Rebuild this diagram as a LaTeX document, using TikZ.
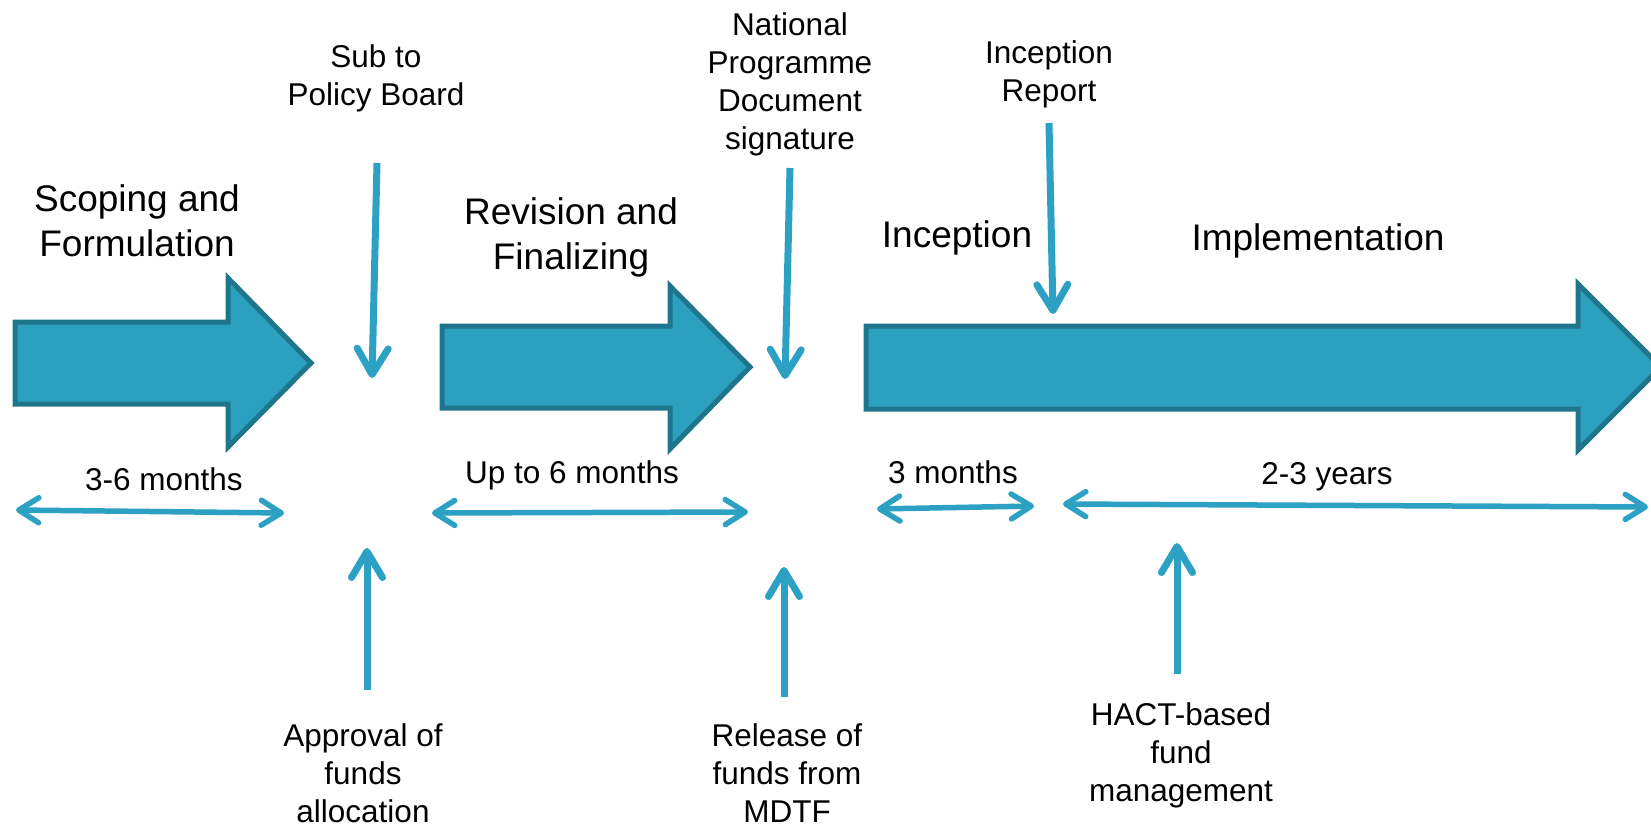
\documentclass[tikz,border=0pt]{standalone}
\usepackage{fontspec}
\setmainfont{Liberation Sans}
\usetikzlibrary{arrows.meta, positioning}
\definecolor{arrowfill}{RGB}{44,161,191}
\definecolor{arrowedge}{RGB}{31,117,140}
\definecolor{cueblue}{RGB}{44,161,196}
\tikzstyle{phase} = [font=\fontsize{37}{45}\selectfont, align=center, inner sep=0pt]
\tikzstyle{milestone} = [font=\fontsize{31.5}{38}\selectfont, align=center, inner sep=0pt]
\tikzstyle{span} = [font=\fontsize{31.5}{38}\selectfont, inner sep=0pt]
\tikzstyle{bigarrow} = [draw=arrowedge, fill=arrowfill, line width=5pt, line join=miter]
\tikzstyle{cue} = [draw=cueblue, line width=7pt, -{Straight Barb[length=26pt,width=31pt,round]}]
\tikzstyle{duration} = [draw=cueblue, line width=5.5pt, {Straight Barb[length=20pt,width=25pt,round]}-{Straight Barb[length=20pt,width=25pt,round]}]

\begin{document}
\begin{tikzpicture}[x=1pt, y=-1pt]
			\useasboundingbox (0,0) rectangle (1651,829);

			% phase arrows
			\draw [bigarrow] (15,322) -- (228,322) -- (228,278) -- (311,363) -- (228,447) -- (228,404) -- (15,404) -- cycle;
			\draw [bigarrow] (442,326) -- (670,326) -- (670,286) -- (750,367) -- (670,449) -- (670,408) -- (442,408) -- cycle;
			\draw [bigarrow] (866,326) -- (1578,326) -- (1578,284) -- (1661,367) -- (1578,450) -- (1578,409) -- (866,409) -- cycle;

			% phase labels
			\node (scoping) [phase] at (137,221) {Scoping and\\Formulation};
			\node (revision) [phase] at (571,237) {Revision and\\Finalizing};
			\node (inception) [phase] at (957,238) {Inception};
			\node (implement) [phase] at (1318,241) {Implementation};

			% milestones above
			\node (policy) [milestone] at (376,78) {Sub to\\Policy Board};
			\node (signature) [milestone] at (790,84) {National\\Programme\\Document\\signature};
			\node (report) [milestone] at (1049,74) {Inception\\Report};

			% milestones below
			\node (approval) [milestone] at (363,773) {Approval of\\funds\\allocation};
			\node (release) [milestone] at (787,773) {Release of\\funds from\\MDTF};
			\node (hact) [milestone] at (1181,755) {HACT-based\\fund\\management};

			% durations
			\node (span1) [span] at (164,479) {3-6 months};
			\node (span2) [span] at (572,475) {Up to 6 months};
			\node (span3) [span] at (953,472) {3 months};
			\node (span4) [span] at (1327,477) {2-3 years};

			\coordinate (policyTop) at (377,163);
			\coordinate (policyTip) at (372,378);
			\coordinate (signTop) at (790,168);
			\coordinate (signTip) at (785,379);
			\coordinate (reportTop) at (1049,123);
			\coordinate (reportTip) at (1053,314);
			\coordinate (approvalEnd) at (367,690);
			\coordinate (approvalTip) at (367,548);
			\coordinate (releaseEnd) at (784,697);
			\coordinate (releaseTip) at (784,567);
			\coordinate (hactEnd) at (1177,674);
			\coordinate (hactTip) at (1177,543);

			\draw [cue] (policyTop) -- (policyTip);
			\draw [cue] (signTop) -- (signTip);
			\draw [cue] (reportTop) -- (reportTip);
			\draw [cue] (approvalEnd) -- (approvalTip);
			\draw [cue] (releaseEnd) -- (releaseTip);
			\draw [cue] (hactEnd) -- (hactTip);

			\coordinate (s1a) at (16,510);
			\coordinate (s1b) at (284,513);
			\coordinate (s2a) at (432,513);
			\coordinate (s2b) at (748,512);
			\coordinate (s3a) at (877,509);
			\coordinate (s3b) at (1034,506);
			\coordinate (s4a) at (1063,504);
			\coordinate (s4b) at (1648,507);

			\draw [duration] (s1a) -- (s1b);
			\draw [duration] (s2a) -- (s2b);
			\draw [duration] (s3a) -- (s3b);
			\draw [duration] (s4a) -- (s4b);

		\end{tikzpicture}
\end{document}
